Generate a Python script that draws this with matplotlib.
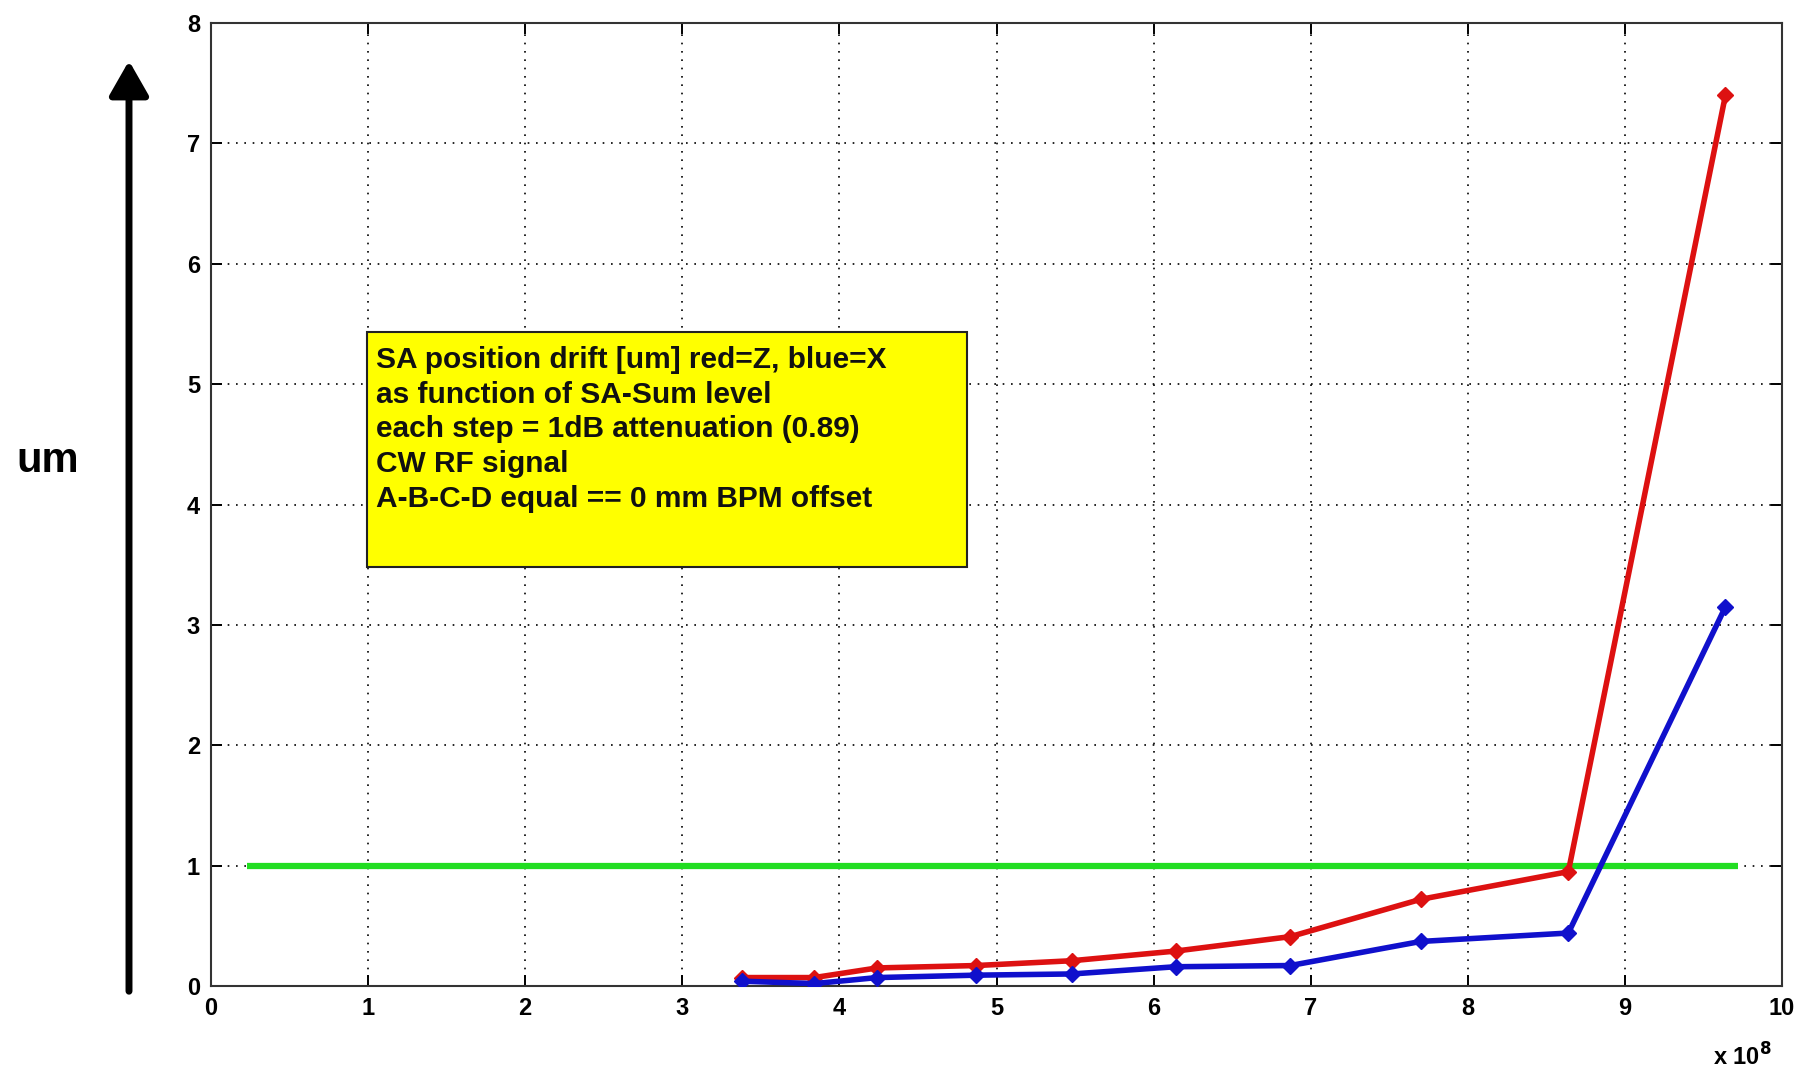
#!/usr/bin/env python3
"""SA position drift versus SA-Sum level, red = Z, blue = X."""

import matplotlib
matplotlib.use("Agg")
import matplotlib.pyplot as plt
from matplotlib.patches import FancyArrowPatch

# SA-Sum level (x 1e8) for each 1 dB attenuation step
sum_level = [3.38, 3.84, 4.24, 4.87, 5.48, 6.14, 6.87, 7.70, 8.64, 9.64]
drift_z = [0.07, 0.07, 0.15, 0.17, 0.21, 0.29, 0.41, 0.72, 0.95, 7.40]
drift_x = [0.04, 0.02, 0.07, 0.09, 0.10, 0.16, 0.17, 0.37, 0.44, 3.15]

limit_x = [0.23, 9.72]
limit_y = [1.0, 1.0]

x_ticks = list(range(0, 11))
y_ticks = list(range(0, 9))

note_lines = [
    "SA position drift [um] red=Z, blue=X",
    "as function of SA-Sum level",
    "each step = 1dB attenuation (0.89)",
    "CW RF signal",
    "A-B-C-D equal == 0 mm BPM offset",
]

plt.rcParams["font.family"] = ["Liberation Sans", "DejaVu Sans"]

W, H = 1809, 1073
fig = plt.figure(figsize=(W / 100, H / 100), dpi=100)
ax = fig.add_axes([211 / W, 1 - 986 / H, (1782 - 211) / W, (986 - 23) / H])

ax.plot(limit_x, limit_y, color="#22dd22", lw=4.5, solid_capstyle="butt", zorder=3)
ax.plot(sum_level, drift_z, color="#dd1111", lw=4.0, marker="D", ms=8, zorder=4)
ax.plot(sum_level, drift_x, color="#1010cc", lw=4.0, marker="D", ms=8, zorder=4)

ax.set_xlim(0, 10)
ax.set_ylim(0, 8)
ax.set_xticks(x_ticks)
ax.set_yticks(y_ticks)
ax.grid(True, color="black", linestyle=(0, (1, 4)), linewidth=1.2)
ax.tick_params(direction="in", length=8, width=1.4, top=True, right=True,
               labelsize=17, pad=8)
for lab in ax.get_xticklabels() + ax.get_yticklabels():
    lab.set_fontweight("bold")
for sp in ax.spines.values():
    sp.set_color("#333333")
    sp.set_linewidth(1.5)

# annotation box
ax.add_patch(plt.Rectangle((0.99, 3.48), 3.82, 1.95, facecolor="#ffff00",
                           edgecolor="#222222", lw=1.5, zorder=5))
for i, line in enumerate(note_lines):
    ax.text(1.05, 5.2 - i * 0.288, line, fontsize=21.5, fontweight="bold",
            color="#111111", va="center", ha="left", zorder=6)

# axis unit and arrow
fig.text(48 / W, 1 - 461 / H, "um", fontsize=30, fontweight="bold",
         ha="center", va="center")
fig.patches.append(FancyArrowPatch((129 / W, 1 - 994 / H), (129 / W, 1 - 58 / H),
                                   transform=fig.transFigure,
                                   arrowstyle="-|>,head_length=0.42,head_width=0.24",
                                   mutation_scale=50, lw=5.0, color="black"))

fig.text(1742 / W, 1 - 1057 / H, r"x 10$^{\mathbf{8}}$", fontsize=17,
         fontweight="bold", ha="center", va="center")

fig.savefig("out.png", dpi=100, facecolor="white")
